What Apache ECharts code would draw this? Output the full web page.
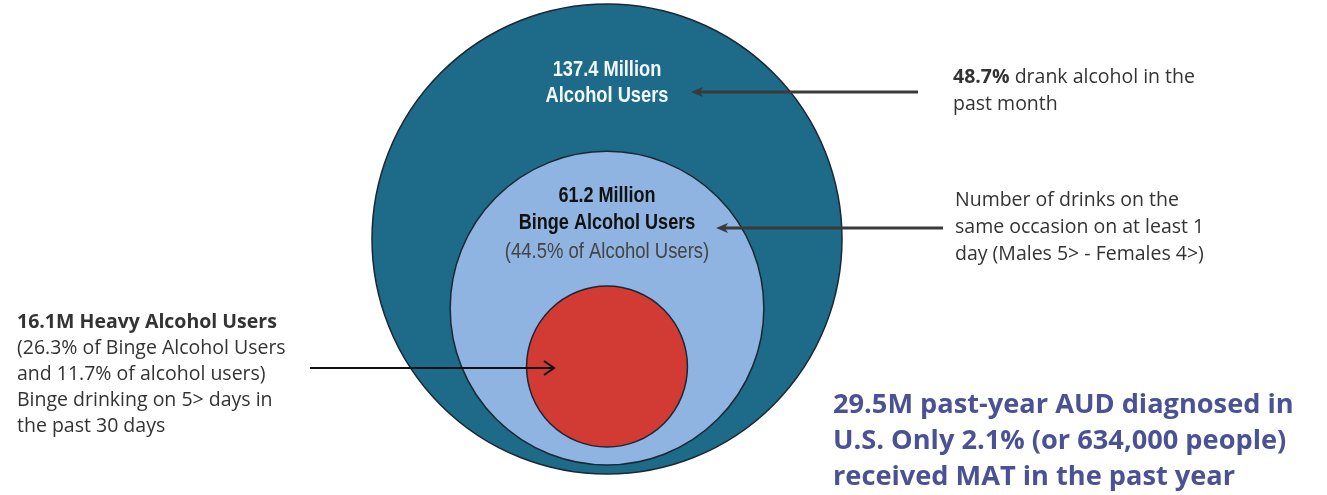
<!DOCTYPE html>
<html>
<head>
<meta charset="utf-8">
<script src="https://cdn.jsdelivr.net/npm/echarts@6/dist/echarts.min.js"></script>
<style>
  html, body { margin: 0; padding: 0; background: #ffffff; }
  #chart { width: 1327px; height: 495px; }
</style>
</head>
<body>
<div id="chart"></div>
<script>
// Nested population groups (millions of people)
const groupNames = ['Alcohol Users', 'Binge Alcohol Users', 'Heavy Alcohol Users'];
const groupValues = [137.4, 61.2, 16.1];
const groupShares = [null, '44.5% of Alcohol Users', null];
const groupColors = ['#1d6a89', '#8fb4e2', '#d23a34'];

// Side annotations
const noteTop = ['48.7%', ' drank alcohol in the', 'past month'];
const noteMid = ['Number of drinks on the', 'same occasion on at least 1', 'day (Males 5> - Females 4>)'];
const noteLeft = ['16.1M Heavy Alcohol Users', '(26.3% of Binge Alcohol Users', 'and 11.7% of alcohol users)',
  'Binge drinking on 5> days in', 'the past 30 days'];
const noteAud = ['29.5M past-year AUD diagnosed in', 'U.S. Only 2.1% (or 634,000 people)', 'received MAT in the past year'];

// Layout: circle areas are proportional to the values, circles sit inside each other near the bottom
const W = 1327, H = 495;
const centerX = 607;
const outerRadius = 235;
const outerBottom = 474;
const bottomInsets = [0, 9, 27];

const maxVal = Math.max.apply(null, groupValues);
const radii = groupValues.map(v => outerRadius * Math.sqrt(v / maxVal));
const circleData = groupValues.map((v, i) => ({
  value: [centerX, outerBottom - bottomInsets[i] - radii[i], v],
  symbolSize: radii[i] * 2,
  itemStyle: { color: groupColors[i] }
}));

const sans = '"Liberation Sans", Arial, sans-serif';
const body = '"Open Sans", "Noto Sans", sans-serif';
const noteSize = 19.5;

function fmtMillion(v) { return v.toFixed(1) + ' Million'; }

const chart = echarts.init(document.getElementById('chart'), null, { renderer: 'canvas' });

const graphics = [];

// Labels inside the circles (horizontally squeezed for a condensed face)
graphics.push({
  type: 'text', x: centerX, y: 83, scaleX: 0.83, z: 100,
  style: {
    text: fmtMillion(groupValues[0]) + '\n' + groupNames[0],
    fontWeight: 'bold', fontFamily: sans, fontSize: 22,
    fill: '#f4f8fb', align: 'center', verticalAlign: 'middle', lineHeight: 26
  }
});
graphics.push({
  type: 'text', x: centerX, y: 209, scaleX: 0.82, z: 100,
  style: {
    text: fmtMillion(groupValues[1]) + '\n' + groupNames[1],
    fontWeight: 'bold', fontFamily: sans, fontSize: 22,
    fill: '#111111', align: 'center', verticalAlign: 'middle', lineHeight: 27
  }
});
graphics.push({
  type: 'text', x: centerX, y: 252, scaleX: 0.84, z: 100,
  style: {
    text: '(' + groupShares[1] + ')',
    fontFamily: sans, fontSize: 22,
    fill: '#444444', align: 'center', verticalAlign: 'middle'
  }
});

// Right-hand notes
graphics.push({
  type: 'text', x: 953, y: 91, z: 100,
  style: {
    text: '{b|' + noteTop[0] + '}{n|' + noteTop[1] + '}\n{n|' + noteTop[2] + '}',
    verticalAlign: 'middle', align: 'left',
    rich: {
      b: { fontFamily: body, fontSize: noteSize, fontWeight: 'bold', fill: '#333333', lineHeight: 27 },
      n: { fontFamily: body, fontSize: noteSize, fill: '#333333', lineHeight: 27 }
    }
  }
});
graphics.push({
  type: 'text', x: 955, y: 227, z: 100,
  style: {
    text: noteMid.join('\n'), fontFamily: body, fontSize: noteSize, fill: '#333333',
    lineHeight: 27, align: 'left', verticalAlign: 'middle'
  }
});

// Left note
graphics.push({
  type: 'text', x: 17, y: 374, z: 100,
  style: {
    text: '{b|' + noteLeft[0] + '}\n' + noteLeft.slice(1).map(s => '{n|' + s + '}').join('\n'),
    align: 'left', verticalAlign: 'middle',
    rich: {
      b: { fontFamily: body, fontSize: noteSize, fontWeight: 'bold', fill: '#333333', lineHeight: 26 },
      n: { fontFamily: body, fontSize: noteSize, fill: '#333333', lineHeight: 26 }
    }
  }
});

// AUD / MAT note
graphics.push({
  type: 'text', x: 833, y: 441, z: 100,
  style: {
    text: noteAud.join('\n'), fontFamily: body, fontSize: 27.2, fontWeight: 'bold',
    fill: '#4a5294', lineHeight: 36, align: 'left', verticalAlign: 'middle'
  }
});

// Pointer arrows
function arrowLeft(x1, x2, y, color, w) {
  graphics.push({ type: 'line', shape: { x1: x1, y1: y, x2: x2 + 6, y2: y }, style: { stroke: color, lineWidth: w }, z: 10 });
  graphics.push({ type: 'polygon', shape: { points: [[x2, y], [x2 + 12, y - 5], [x2 + 9, y], [x2 + 12, y + 5]] }, style: { fill: color }, z: 10 });
}
arrowLeft(918, 691, 92, '#3a3a3a', 3);
arrowLeft(943, 716, 228, '#3a3a3a', 3);

graphics.push({ type: 'line', shape: { x1: 310, y1: 368, x2: 553, y2: 368 }, style: { stroke: '#111111', lineWidth: 2 }, z: 10 });
graphics.push({ type: 'polyline', shape: { points: [[544, 361], [554, 368], [544, 375]] }, style: { stroke: '#111111', lineWidth: 2, fill: null }, z: 10 });

chart.setOption({
  animation: false,
  backgroundColor: '#ffffff',
  grid: { left: 0, right: 0, top: 0, bottom: 0 },
  xAxis: { type: 'value', min: 0, max: W, show: false },
  yAxis: { type: 'value', min: 0, max: H, inverse: true, show: false },
  series: [{
    type: 'scatter',
    data: circleData,
    symbol: 'circle',
    itemStyle: { borderColor: '#1b2733', borderWidth: 1.5, opacity: 1 },
    emphasis: { disabled: true },
    silent: true
  }],
  graphic: graphics
});
</script>
</body>
</html>
